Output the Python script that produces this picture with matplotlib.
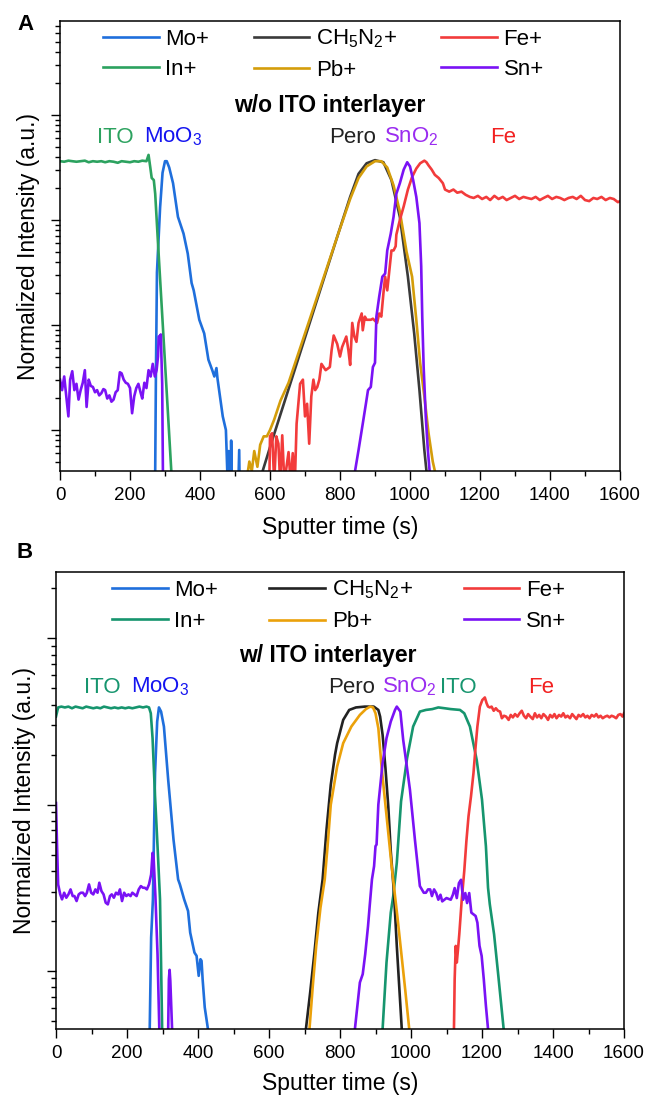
import numpy as np
import matplotlib
matplotlib.use("Agg")
import matplotlib.pyplot as plt
from matplotlib.ticker import LogLocator, NullFormatter, MultipleLocator

plt.rcParams['font.family'] = ['Liberation Sans', 'DejaVu Sans']
plt.rcParams['mathtext.fontset'] = 'custom'
plt.rcParams['mathtext.rm'] = 'Liberation Sans'
plt.rcParams['mathtext.it'] = 'Liberation Sans:italic'
plt.rcParams['mathtext.bf'] = 'Liberation Sans:bold'

# ---------------- panel A: w/o ITO interlayer (log10 intensity, a.u.) ----------------
a_in_t = [0, 12, 24, 35, 47, 59, 71, 82, 94, 106, 118, 129, 141, 153, 165, 176, 188, 200, 212, 224,
          235, 247, 253, 258, 262, 268, 272, 280, 290, 300, 310, 318, 320]
a_in_log = [2.56, 2.555, 2.565, 2.56, 2.555, 2.56, 2.565, 2.55, 2.56, 2.555, 2.56, 2.55, 2.56, 2.555,
            2.545, 2.56, 2.555, 2.55, 2.56, 2.555, 2.565, 2.56, 2.62, 2.5, 2.40, 2.38, 2.25, 1.78,
            1.21, 0.64, 0.07, -0.39, -1.0]

a_mo_t = [268, 272, 274, 277, 286, 293, 300, 305, 312, 323, 337, 353, 365, 376, 382, 398, 412, 424,
          435, 441, 447, 450, 465, 474, 480, 482, 487, 489, 494, 506, 512, 515]
a_mo_log = [-1.0, -0.39, 0.5, 1.5, 2.12, 2.45, 2.56, 2.56, 2.5, 2.35, 2.03, 1.87, 1.68, 1.40, 1.33,
            1.05, 0.92, 0.67, 0.57, 0.51, 0.59, 0.49, 0.13, 0.0, -0.6, -0.2, -0.6, -0.1, -1.0, -1.0,
            -0.19, -1.0]

a_sn_t = [0, 6, 12, 18, 24, 29, 35, 41, 47, 53, 59, 65, 71, 76, 82, 88, 94, 100, 106, 112, 118, 124,
          129, 135, 141, 147, 153, 159, 165, 171, 176, 182, 188, 194, 200, 206, 212, 218, 224, 230,
          235, 241, 247, 253, 259, 265, 271, 276, 280, 282, 286, 288, 292, 294, 296,
          840, 843, 853, 865, 874, 880, 888, 894, 900, 904, 912, 921, 929, 935, 945, 953, 961, 971,
          982, 992, 1000, 1009, 1018, 1027, 1032, 1035, 1039, 1045, 1051, 1056, 1058]
a_sn_log = [0.48, 0.38, 0.51, 0.32, 0.13, 0.48, 0.56, 0.38, 0.44, 0.29, 0.38, 0.45, 0.57, 0.22, 0.48,
            0.42, 0.41, 0.36, 0.38, 0.33, 0.35, 0.39, 0.38, 0.30, 0.33, 0.27, 0.29, 0.36, 0.38, 0.55,
            0.54, 0.48, 0.45, 0.44, 0.40, 0.16, 0.32, 0.40, 0.44, 0.36, 0.30, 0.45, 0.40, 0.57, 0.51,
            0.63, 0.51, 0.57, 0.70, 0.89, 0.90, 0.91, 0.44, -0.39, -1.0,
            -1.0, -0.39, -0.19, 0.06, 0.25, 0.38, 0.41, 0.60, 0.64, 1.08, 1.27, 1.46, 1.49, 1.71, 1.87,
            2.03, 2.25, 2.35, 2.48, 2.55, 2.51, 2.38, 2.22, 1.97, 1.56, 1.08, 0.60, 0.13, -0.19, -0.39,
            -1.0]

a_ch_t = [565, 579, 606, 653, 700, 747, 794, 829, 853, 876, 900, 924, 947, 971, 994, 1012, 1027, 1041,
          1047, 1050]
a_ch_log = [-1.0, -0.39, -0.10, 0.39, 0.88, 1.37, 1.86, 2.22, 2.44, 2.54, 2.57, 2.55, 2.38, 2.03, 1.46,
            0.92, 0.38, -0.19, -0.39, -1.0]

a_pb_t = [535, 537, 541, 548, 555, 564, 572, 582, 591, 600, 612, 630, 653, 700, 747, 794, 829, 853,
          876, 900, 918, 935, 953, 971, 990, 1006, 1018, 1029, 1041, 1053, 1065, 1071, 1073]
a_pb_log = [-1.0, -0.39, -0.30, -0.39, -0.2, -0.35, -0.14, -0.06, -0.06, 0.0, 0.1, 0.28, 0.45, 0.92,
            1.39, 1.86, 2.20, 2.40, 2.51, 2.56, 2.56, 2.50, 2.33, 2.08, 1.70, 1.46, 1.05, 0.64, 0.32,
            -0.03, -0.30, -0.39, -1.0]

a_fe_t = [596, 600, 606, 612, 618, 624, 629, 635, 641, 653, 659, 665, 671, 676, 686, 694, 700, 706,
          712, 718, 724, 729, 735, 741, 747, 759, 771, 776, 782, 792, 800, 806, 818, 824, 829, 835,
          841, 847, 853, 862, 865, 871, 876, 888, 894, 906, 912, 918, 924, 929, 935, 941, 947, 953,
          959, 961, 971, 982, 994, 1006, 1018, 1029, 1041, 1047, 1053, 1062, 1071, 1082, 1094, 1100,
          1112, 1124, 1135, 1147, 1159, 1171, 1182, 1194, 1206, 1218, 1229, 1241, 1253, 1265, 1276,
          1288, 1300, 1312, 1324, 1335, 1347, 1359, 1371, 1382, 1394, 1406, 1418, 1429, 1441, 1453,
          1465, 1476, 1488, 1500, 1512, 1524, 1535, 1547, 1559, 1571, 1582, 1594, 1600]
a_fe_log = [-1.0, -0.06, -0.03, -0.5, -0.06, -0.13, -0.5, -0.05, -0.5, -0.21, -0.5, -0.22, -0.5, 0.06,
            0.44, 0.48, 0.13, 0.25, -0.13, 0.32, 0.48, 0.38, 0.41, 0.48, 0.63, 0.57, 0.60, 0.76, 0.90,
            0.82, 0.70, 0.79, 0.89, 0.76, 0.62, 1.02, 0.89, 0.84, 1.02, 1.11, 0.95, 1.08, 1.05, 1.05,
            1.06, 1.02, 1.11, 1.08, 1.30, 1.46, 1.33, 1.52, 1.71, 1.71, 1.75, 1.86, 2.0, 2.13, 2.29,
            2.41, 2.49, 2.54, 2.565, 2.55, 2.52, 2.48, 2.43, 2.40, 2.35, 2.29, 2.27, 2.29, 2.26, 2.27,
            2.24, 2.22, 2.21, 2.23, 2.20, 2.22, 2.19, 2.23, 2.20, 2.22, 2.19, 2.21, 2.23, 2.20, 2.22,
            2.21, 2.20, 2.22, 2.19, 2.21, 2.23, 2.20, 2.22, 2.21, 2.19, 2.21, 2.22, 2.20, 2.23, 2.19,
            2.18, 2.21, 2.20, 2.22, 2.19, 2.21, 2.20, 2.17, 2.18]

# ---------------- panel B: w/ ITO interlayer (log10 intensity, a.u.) ----------------
b_in_t = [0, 6, 15, 25, 35, 45, 55, 65, 75, 85, 95, 105, 115, 125, 135, 145, 155, 165, 175, 185, 195,
          205, 215, 225, 235, 245, 255, 262, 267, 272, 279, 286, 293, 299, 301,
          918, 920, 931, 943, 950, 960, 972, 989, 1006, 1025, 1042, 1060, 1077, 1095, 1112, 1138,
          1150, 1166, 1185, 1200, 1211, 1217, 1222, 1234, 1246, 1261, 1263]
b_in_log = [1.53, 1.585, 1.59, 1.585, 1.59, 1.58, 1.59, 1.585, 1.58, 1.59, 1.585, 1.58, 1.585, 1.58,
            1.59, 1.585, 1.58, 1.585, 1.58, 1.585, 1.58, 1.585, 1.58, 1.585, 1.59, 1.585, 1.59, 1.585,
            1.55, 1.40, 1.05, 0.75, 0.43, -0.35, -1.0,
            -1.0, -0.35, 0.05, 0.35, 0.45, 0.65, 1.02, 1.28, 1.47, 1.56, 1.57, 1.575, 1.585, 1.58,
            1.575, 1.57, 1.55, 1.47, 1.27, 1.03, 0.75, 0.50, 0.40, 0.22, -0.03, -0.35, -1.0]

b_mo_t = [262, 264, 268, 273, 279, 285, 290, 296, 304, 316, 331, 344, 349, 361, 372, 378, 390, 396,
          402, 407, 410, 413, 419, 428, 430]
b_mo_log = [-1.0, -0.35, 0.2, 0.43, 1.19, 1.50, 1.585, 1.56, 1.47, 1.15, 0.79, 0.55, 0.52, 0.43, 0.36,
            0.23, 0.11, 0.09, -0.03, 0.07, 0.06, -0.05, -0.22, -0.35, -1.0]

b_sn_t = [0, 3, 6, 12, 17, 23, 29, 35, 41, 47, 52, 58, 64, 70, 76, 82, 87, 93, 99, 105, 111, 117, 122,
          128, 134, 140, 146, 152, 157, 163, 169, 175, 180, 186, 192, 198, 204, 210, 215, 221, 227,
          233, 239, 245, 250, 256, 262, 268, 272, 275, 280, 286, 291, 293,
          314, 316, 318, 320, 322, 327, 329,
          840, 842, 856, 864, 871, 879, 884, 890, 896, 900, 903, 908, 920, 931, 943, 955, 960, 970,
          978, 987, 997, 1011, 1025, 1036, 1042, 1048, 1054, 1059, 1065, 1071, 1077, 1083, 1088,
          1100, 1112, 1118, 1123, 1129, 1135, 1141, 1147, 1153, 1158, 1164, 1170, 1182, 1187, 1193,
          1199, 1205, 1211, 1217, 1219]
b_sn_log = [1.01, 0.75, 0.52, 0.46, 0.43, 0.47, 0.44, 0.46, 0.49, 0.45, 0.45, 0.42, 0.46, 0.47, 0.47,
            0.45, 0.47, 0.52, 0.47, 0.46, 0.49, 0.47, 0.53, 0.48, 0.46, 0.41, 0.40, 0.45, 0.46, 0.44,
            0.47, 0.46, 0.49, 0.42, 0.47, 0.45, 0.46, 0.45, 0.47, 0.46, 0.45, 0.49, 0.51, 0.50, 0.50,
            0.49, 0.52, 0.58, 0.71, 0.68, 0.45, 0.1, -0.35, -1.0,
            -1.0, -0.35, -0.05, 0.006, -0.06, -0.35, -1.0,
            -1.0, -0.35, -0.07, -0.02, 0.10, 0.27, 0.40, 0.55, 0.63, 0.75, 0.76, 1.0, 1.25, 1.40, 1.50,
            1.57, 1.59, 1.56, 1.39, 1.25, 1.09, 0.79, 0.51, 0.47, 0.47, 0.49, 0.49, 0.45, 0.49, 0.468,
            0.428, 0.458, 0.418, 0.438, 0.428, 0.458, 0.498, 0.438, 0.528, 0.548, 0.428, 0.468, 0.408,
            0.468, 0.35, 0.33, 0.29, 0.15, 0.09, -0.05, -0.21, -0.35, -1.0]

b_ch_t = [700, 704, 716, 728, 739, 751, 762, 774, 786, 792, 809, 826, 845, 870, 895, 908, 913, 920,
          928, 936, 943, 952, 960, 967, 974, 976]
b_ch_log = [-1.0, -0.35, -0.13, 0.11, 0.35, 0.55, 0.85, 1.12, 1.30, 1.37, 1.51, 1.57, 1.585, 1.59,
            1.59, 1.57, 1.53, 1.42, 1.22, 0.99, 0.72, 0.47, 0.15, -0.10, -0.35, -1.0]

b_pb_t = [710, 714, 723, 733, 745, 757, 765, 774, 792, 809, 832, 856, 873, 885, 893, 900, 908, 917,
          926, 936, 945, 955, 962, 972, 984, 995, 997]
b_pb_log = [-1.0, -0.35, -0.1, 0.15, 0.38, 0.55, 0.75, 1.0, 1.23, 1.37, 1.47, 1.54, 1.575, 1.59,
            1.585, 1.55, 1.46, 1.23, 1.04, 0.83, 0.64, 0.45, 0.32, 0.12, -0.12, -0.35, -1.0]

b_fe_t = [1119, 1121, 1123, 1126, 1129, 1132, 1136, 1143, 1150, 1156, 1162, 1169, 1176, 1182, 1187,
          1194, 1201, 1208, 1213, 1217, 1222, 1227, 1233, 1239, 1245, 1251, 1256, 1262, 1268, 1275,
          1281, 1287, 1293, 1300, 1306, 1312, 1318, 1324, 1330, 1336, 1343, 1349, 1355, 1361, 1367,
          1373, 1380, 1386, 1392, 1398, 1404, 1410, 1417, 1423, 1429, 1435, 1441, 1448, 1454, 1460,
          1466, 1472, 1478, 1485, 1491, 1497, 1503, 1509, 1516, 1522, 1528, 1534, 1540, 1547, 1553,
          1559, 1565, 1571, 1578, 1584, 1590, 1596, 1600]
b_fe_log = [-1.0, -0.35, -0.05, 0.15, 0.05, 0.12, 0.22, 0.43, 0.60, 0.78, 0.93, 1.05, 1.19, 1.35, 1.47,
            1.59, 1.63, 1.645, 1.61, 1.59, 1.585, 1.59, 1.565, 1.58, 1.565, 1.56, 1.52, 1.535, 1.53,
            1.51, 1.54, 1.525, 1.545, 1.53, 1.55, 1.565, 1.535, 1.52, 1.545, 1.53, 1.515, 1.55, 1.525,
            1.54, 1.52, 1.545, 1.53, 1.51, 1.54, 1.525, 1.545, 1.52, 1.54, 1.53, 1.55, 1.525, 1.535,
            1.52, 1.545, 1.53, 1.515, 1.54, 1.53, 1.545, 1.525, 1.535, 1.52, 1.54, 1.53, 1.545, 1.525,
            1.535, 1.52, 1.53, 1.535, 1.525, 1.535, 1.53, 1.52, 1.54, 1.545, 1.53, 1.55]

c_mo = '#1f6fdc'
c_ch = '#3a3a3a'
c_fe = '#f23b3b'
c_sn = '#7a12f5'
c_in_a, c_in_b = '#2ca25f', '#16956e'
c_pb_a, c_pb_b = '#d49d0a', '#eba10a'

ch_label = r'CH$_\mathregular{5}$N$_\mathregular{2}$+'

fig = plt.figure(figsize=(6.46, 11.0), dpi=100)
axA = fig.add_axes([60 / 646, 1 - 471 / 1100, 560 / 646, 450 / 1100])
axB = fig.add_axes([56 / 646, 1 - 1029 / 1100, 568 / 646, 457 / 1100])

lw = 1.9
fs_leg = 16
fs_txt = 16


def style(ax, ylo, yhi):
    ax.set_yscale('log')
    ax.set_xlim(0, 1600)
    ax.set_ylim(10 ** ylo, 10 ** yhi)
    ax.xaxis.set_major_locator(MultipleLocator(200))
    ax.xaxis.set_minor_locator(MultipleLocator(100))
    ax.yaxis.set_major_locator(LogLocator(base=10, numticks=20))
    ax.yaxis.set_minor_locator(LogLocator(base=10, subs=np.arange(2, 10), numticks=20))
    ax.yaxis.set_major_formatter(NullFormatter())
    ax.yaxis.set_minor_formatter(NullFormatter())
    ax.tick_params(axis='x', which='major', direction='out', length=6.5, width=1.0, labelsize=13.5, pad=5)
    ax.tick_params(axis='x', which='minor', direction='out', length=3.5, width=1.0)
    ax.tick_params(axis='y', which='major', direction='out', length=6.5, width=1.0)
    ax.tick_params(axis='y', which='minor', direction='out', length=3.5, width=1.0)
    for s in ax.spines.values():
        s.set_linewidth(1.1)
    ax.set_xlabel('Sputter time (s)', fontsize=16.5)
    ax.set_ylabel('Normalized Intensity (a.u.)', fontsize=16.5)


def draw(ax, t, lg, color, label):
    ax.plot(t, np.power(10.0, lg), color=color, lw=lw, label=label, solid_joinstyle='round')


# panel A
draw(axA, a_mo_t, a_mo_log, c_mo, 'Mo+')
draw(axA, a_in_t, a_in_log, c_in_a, 'In+')
draw(axA, a_ch_t, a_ch_log, c_ch, ch_label)
draw(axA, a_pb_t, a_pb_log, c_pb_a, 'Pb+')
draw(axA, a_fe_t, a_fe_log, c_fe, 'Fe+')
draw(axA, a_sn_t, a_sn_log, c_sn, 'Sn+')
style(axA, -0.39, 3.895)
axA.xaxis.set_label_coords(0.5, -0.1)
axA.yaxis.set_label_coords(-0.036, 0.5)
axA.legend(loc='upper left', bbox_to_anchor=(0.077, 0.985), ncol=3, frameon=False, fontsize=fs_leg,
           handlelength=2.5, handletextpad=0.3, columnspacing=2.0, labelspacing=0.42, borderpad=0,
           borderaxespad=0)
axA.text(0.482, 0.813, 'w/o ITO interlayer', transform=axA.transAxes, ha='center', va='center',
         fontsize=16.5, fontweight='bold')
trA = axA.get_xaxis_transform()
ya = 0.742
axA.text(106, ya, 'ITO', transform=trA, color=c_in_a, fontsize=fs_txt, va='center')
axA.text(240, ya, r'MoO$_\mathregular{3}$', transform=trA, color='#1414f0', fontsize=fs_txt, va='center')
axA.text(768, ya, 'Pero', transform=trA, color='#222222', fontsize=fs_txt, va='center')
axA.text(926, ya, r'SnO$_\mathregular{2}$', transform=trA, color='#9a2cf0', fontsize=fs_txt, va='center')
axA.text(1229, ya, 'Fe', transform=trA, color='#f22020', fontsize=fs_txt, va='center')

# panel B
draw(axB, b_mo_t, b_mo_log, c_mo, 'Mo+')
draw(axB, b_in_t, b_in_log, c_in_b, 'In+')
draw(axB, b_ch_t, b_ch_log, '#222222', ch_label)
draw(axB, b_pb_t, b_pb_log, c_pb_b, 'Pb+')
draw(axB, b_fe_t, b_fe_log, c_fe, 'Fe+')
draw(axB, b_sn_t, b_sn_log, c_sn, 'Sn+')
style(axB, -0.35, 2.40)
axB.xaxis.set_label_coords(0.5, -0.095)
axB.yaxis.set_label_coords(-0.036, 0.5)
axB.legend(loc='upper left', bbox_to_anchor=(0.099, 0.985), ncol=3, frameon=False, fontsize=fs_leg,
           handlelength=2.5, handletextpad=0.3, columnspacing=2.3, labelspacing=0.45, borderpad=0,
           borderaxespad=0)
axB.text(0.479, 0.818, 'w/ ITO interlayer', transform=axB.transAxes, ha='center', va='center',
         fontsize=16.5, fontweight='bold')
trB = axB.get_xaxis_transform()
yb = 0.748
axB.text(80, yb, 'ITO', transform=trB, color=c_in_b, fontsize=fs_txt, va='center')
axB.text(212, yb, r'MoO$_\mathregular{3}$', transform=trB, color='#1414f0', fontsize=fs_txt, va='center')
axB.text(766, yb, 'Pero', transform=trB, color='#222222', fontsize=fs_txt, va='center')
axB.text(918, yb, r'SnO$_\mathregular{2}$', transform=trB, color='#9a2cf0', fontsize=fs_txt, va='center')
axB.text(1083, yb, 'ITO', transform=trB, color=c_in_b, fontsize=fs_txt, va='center')
axB.text(1330, yb, 'Fe', transform=trB, color='#f22020', fontsize=fs_txt, va='center')

fig.text(17 / 646, 1 - 25 / 1100, 'A', fontsize=16, fontweight='bold', va='center')
fig.text(17 / 646, 1 - 553 / 1100, 'B', fontsize=16, fontweight='bold', va='center')

fig.savefig('out.png', dpi=100)
